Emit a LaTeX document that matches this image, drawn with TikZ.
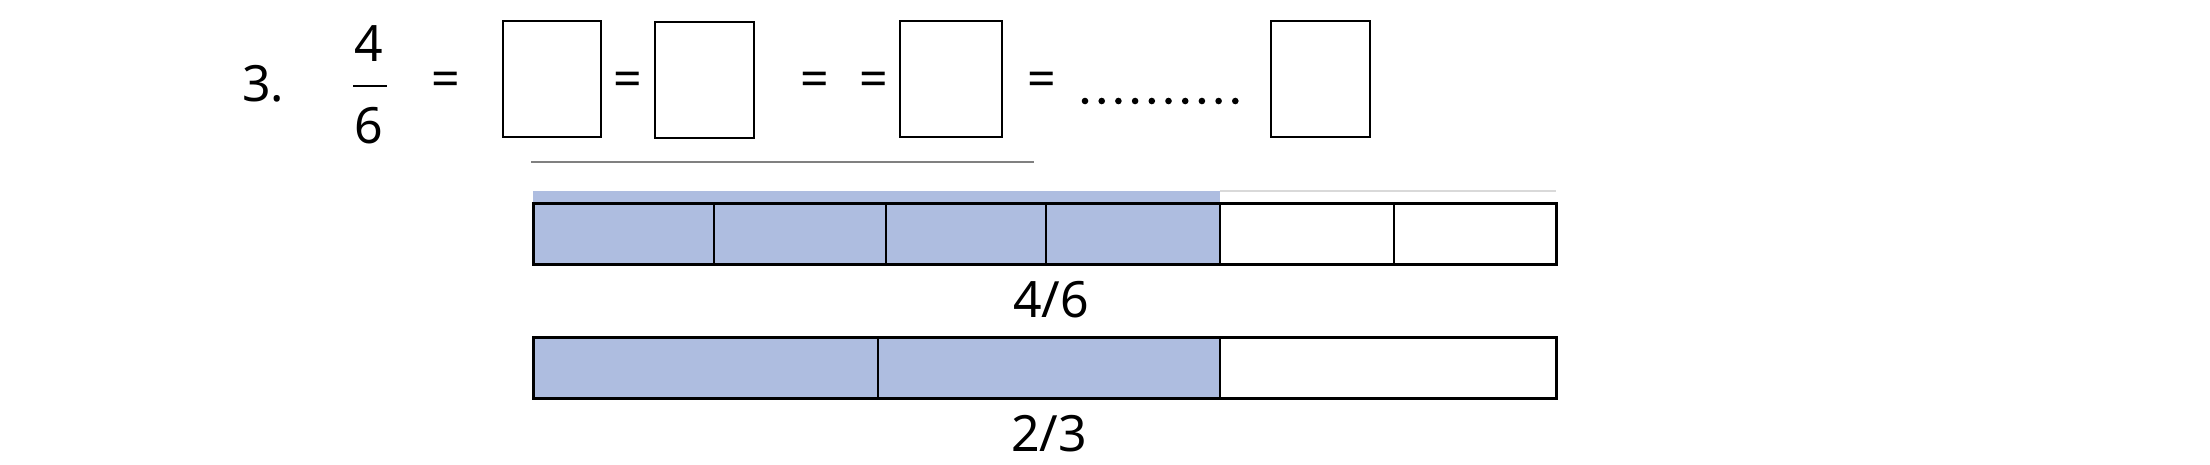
\documentclass[tikz,border=0pt]{standalone}
\usepackage{fontspec}
\setmainfont{Noto Sans}
\definecolor{fb}{HTML}{AEBDE0}
\begin{document}
\begin{tikzpicture}[x=1pt,y=-1pt,
  t/.style={font=\fontsize{50}{54}\selectfont,inner sep=0pt},
  bx/.style={draw,line width=2pt},
  bar/.style={draw,line width=3pt}]
\useasboundingbox (0,0) rectangle (2210,464);
\node[t] (n3) at (263,84) {3.};
\node[t] (num) at (369,44) {4};
\draw[line width=2.5pt] (353,86) -- (387,86);
\node[t] (den) at (369,126) {6};
\foreach \x/\n in {446/e1,628/e2,815/e3,874/e4,1042/e5} \node[t] (\n) at (\x,84) {=};
\draw[bx] (503,21) rectangle (601,137);
\draw[bx] (655,22) rectangle (754,138);
\draw[bx] (900,21) rectangle (1002,137);
\draw[bx] (1271,21) rectangle (1370,137);
\foreach \i in {0,...,9} \fill (1085+\i*16.7,101) circle (3.3);
\draw[gray,line width=1.5pt] (531,162) -- (1034,162);
\fill[fb] (533,191) rectangle (1220,203);
\draw[black!15,line width=1.5pt] (1220,191) -- (1556,191);
\fill[fb] (533,203) rectangle (1220,264);
\draw[bar] (533,203) rectangle (1556,264);
\foreach \x in {714,886,1046,1220,1394} \draw[line width=2pt] (\x,203) -- (\x,264);
\node[t] (l1) at (1051,300) {4/6};
\fill[fb] (533,337) rectangle (1220,398);
\draw[bar] (533,337) rectangle (1556,398);
\foreach \x in {878,1220} \draw[line width=2pt] (\x,337) -- (\x,398);
\node[t] (l2) at (1049,434) {2/3};
\end{tikzpicture}
\end{document}
